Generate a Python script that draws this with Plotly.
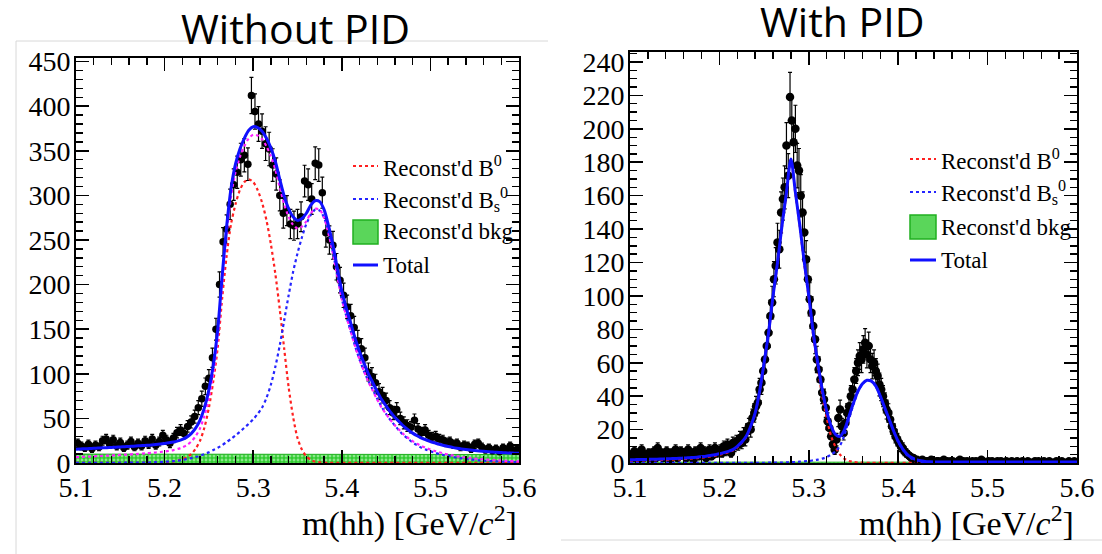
import numpy as np
import plotly.graph_objects as go

W, H = 1102, 554

# ---------------- LEFT: Without PID ----------------
# fit curves sampled every 0.005 GeV from 5.100 to 5.600
total_L = [15.5, 15.7, 16.0, 16.2, 16.5, 16.7, 17.0, 17.2, 17.5, 17.7,
           18.0, 18.3, 18.6, 18.9, 19.2, 19.5, 19.9, 20.3, 20.8, 21.3,
           21.9, 22.6, 23.5, 24.8, 26.5, 29, 33, 39, 48, 62,
           82, 110, 150, 210, 265, 308, 335, 352, 364, 373,
           377, 376, 372, 364, 353, 338, 318, 299, 285, 276,
           272, 274, 280, 289, 294, 293, 284, 266, 244, 218,
           193, 174, 157, 140, 125, 112, 100, 90, 80, 71,
           64, 57, 51, 46, 41, 37, 33.5, 30.5, 28, 26,
           24, 22.5, 21, 19.7, 18.5, 17.5, 16.6, 15.8, 15.1, 14.5,
           14.0, 13.5, 13.1, 12.7, 12.3, 12.0, 11.7, 11.4, 11.2, 11.0,
           10.8]
b0_L = [0.1, 0.1, 0.1, 0.1, 0.1, 0.1, 0.1, 0.1, 0.1, 0.1,
        0.1, 0.1, 0.1, 0.1, 0.1, 0.2, 0.2, 0.3, 0.4, 0.6,
        0.8, 1.2, 1.8, 2.8, 4.2, 6.5, 10, 16, 25, 40,
        62, 92, 130, 185, 232, 268, 290, 306, 315, 318,
        315, 306, 292, 272, 245, 212, 172, 128, 85, 52,
        28, 15, 7.5, 3.5, 1.5, 0.7, 0.3, 0.1, 0.1, 0.1,
        0.1, 0.1, 0.1, 0.1, 0.1, 0.1, 0.1, 0.1, 0.1, 0.1,
        0.1, 0.1, 0.1, 0.1, 0.1, 0.1, 0.1, 0.1, 0.1, 0.1,
        0.1, 0.1, 0.1, 0.1, 0.1, 0.1, 0.1, 0.1, 0.1, 0.1,
        0.1, 0.1, 0.1, 0.1, 0.1, 0.1, 0.1, 0.1, 0.1, 0.1,
        0.1]
bs_L = [0.3, 0.3, 0.3, 0.3, 0.3, 0.3, 0.3, 0.3, 0.3, 0.3,
        0.3, 0.5, 0.5, 0.5, 0.5, 0.5, 0.5, 0.7, 0.9, 1.1,
        1.4, 1.7, 2.1, 2.7, 3.4, 4.3, 5.4, 6.7, 8.2, 10,
        12, 14.5, 17, 20, 23.5, 27, 31, 35, 39.5, 44,
        49, 55, 62, 73, 88, 108, 132, 160, 188, 214,
        235, 253, 268, 278, 284, 283, 275, 258, 236, 210,
        184, 165, 148, 131, 116, 103, 92, 82, 72, 63,
        55, 48, 42, 36, 31, 27, 23, 20, 17, 15,
        13, 11.5, 10, 9, 8, 7, 6, 5.2, 4.5, 4,
        3.5, 3, 2.6, 2.3, 2, 1.8, 1.5, 1.3, 1.1, 1,
        0.9]
sig_L = [6.5, 6.7, 7.0, 7.2, 7.5, 7.7, 8.0, 8.2, 8.5, 8.7,
         9.0, 9.3, 9.6, 9.9, 10.2, 10.5, 10.9, 11.3, 11.8, 12.3,
         12.9, 13.6, 14.5, 15.8, 17.5, 20, 24, 30, 39, 53,
         73, 101, 141, 201, 256, 299, 326, 343, 355, 364,
         368, 367, 363, 355, 344, 329, 309, 290, 276, 267,
         263, 265, 271, 280, 285, 284, 275, 257, 235, 209,
         184, 165, 148, 131, 116, 103, 91, 81, 71, 62,
         55, 48, 42, 37, 32, 28, 24.5, 21.5, 19, 17,
         15, 13.5, 12, 10.7, 9.5, 8.5, 7.6, 6.8, 6.1, 5.5,
         5.0, 4.5, 4.1, 3.7, 3.3, 3.0, 2.7, 2.4, 2.2, 2.0,
         1.8]
bkg_x = [5.1, 5.2, 5.3, 5.4, 5.5, 5.6]
bkg_L = [10.0, 9.9, 9.8, 9.7, 9.6, 9.5]

# data, 125 bins of 4 MeV
data_L = [22, 19, 17, 21, 16, 20, 18, 25, 27, 21,
          26, 19, 23, 17, 20, 24, 18, 22, 19, 25,
          21, 27, 20, 24, 31, 26, 22, 28, 34, 37,
          33, 41, 46, 52, 62, 72, 86, 95, 118, 150,
          200, 248, 262, 290, 312, 326, 340, 345, 335, 412,
          394, 380, 372, 358, 352, 334, 324, 300, 280, 283,
          268, 266, 268, 276, 316, 312, 296, 336, 334, 303,
          258, 250, 244, 220, 205, 188, 175, 165, 152, 137,
          128, 118, 102, 97, 90, 80, 76, 70, 62, 56,
          60, 50, 45, 42, 40, 48, 38, 34, 37, 31,
          29, 30, 27, 26, 23, 24, 21, 22, 18, 20,
          19, 16, 21, 22, 18, 15, 17, 14, 16, 13,
          17, 15, 19, 14, 15]

# ---------------- RIGHT: With PID ----------------
total_R = [2.0, 2.0, 2.1, 2.1, 2.2, 2.3, 2.3, 2.4, 2.5, 2.6,
           2.7, 2.8, 3.0, 3.1, 3.3, 3.5, 3.8, 4.1, 4.5, 5.0,
           5.5, 6.2, 7.0, 8.0, 10, 12.5, 16, 22, 30, 43,
           60, 78, 100, 120, 142, 162, 182, 162, 142, 120,
           100, 78, 60, 44, 31, 22, 17, 16, 20, 28,
           36, 43, 47.5, 49.5, 49, 46, 40, 33, 26, 19,
           13, 8.5, 5.2, 3.2, 2.0, 1.3, 0.9, 0.7, 0.6, 0.6,
           0.6, 0.6, 0.6, 0.6, 0.6, 0.6, 0.6, 0.6, 0.6, 0.6,
           0.6, 0.6, 0.6, 0.6, 0.6, 0.6, 0.6, 0.6, 0.6, 0.6,
           0.6, 0.6, 0.6, 0.6, 0.6, 0.6, 0.6, 0.6, 0.6, 0.6,
           0.6]
b0_R = [1.4, 1.4, 1.5, 1.5, 1.6, 1.7, 1.7, 1.8, 1.9, 2.0,
        2.1, 2.2, 2.4, 2.5, 2.7, 2.9, 3.2, 3.5, 3.9, 4.4,
        4.9, 5.6, 6.4, 7.4, 9.4, 11.9, 15.4, 21.4, 29.4, 42.4,
        59.4, 77.3, 99.3, 119.3, 141.2, 161.2, 181, 161, 141, 118.5,
        98.3, 75.9, 57.5, 40.5, 27, 16, 9.5, 5, 2.5, 1.2,
        0.6, 0.3, 0.2, 0.1, 0.1, 0.1, 0.1, 0.1, 0.1, 0.1,
        0.1, 0.1, 0.1, 0.1, 0.1, 0.1, 0.1, 0.1, 0.1, 0.1,
        0.1, 0.1, 0.1, 0.1, 0.1, 0.1, 0.1, 0.1, 0.1, 0.1,
        0.1, 0.1, 0.1, 0.1, 0.1, 0.1, 0.1, 0.1, 0.1, 0.1,
        0.1, 0.1, 0.1, 0.1, 0.1, 0.1, 0.1, 0.1, 0.1, 0.1,
        0.1]
bs_R = [0.1, 0.1, 0.1, 0.1, 0.1, 0.1, 0.1, 0.1, 0.1, 0.1,
        0.1, 0.1, 0.1, 0.1, 0.1, 0.1, 0.1, 0.1, 0.1, 0.1,
        0.1, 0.1, 0.1, 0.1, 0.1, 0.1, 0.1, 0.1, 0.1, 0.1,
        0.1, 0.2, 0.2, 0.3, 0.3, 0.4, 0.5, 0.6, 0.8, 1.0,
        1.2, 1.6, 2.0, 2.6, 3.5, 5, 7, 10.5, 17, 26.5,
        35, 42.5, 47.3, 49.4, 49, 46, 40, 33, 26, 19,
        12.5, 8, 4.6, 2.6, 1.4, 0.7, 0.3, 0.1, 0.1, 0.1,
        0.1, 0.1, 0.1, 0.1, 0.1, 0.1, 0.1, 0.1, 0.1, 0.1,
        0.1, 0.1, 0.1, 0.1, 0.1, 0.1, 0.1, 0.1, 0.1, 0.1,
        0.1, 0.1, 0.1, 0.1, 0.1, 0.1, 0.1, 0.1, 0.1, 0.1,
        0.1]
bkg_R = [0.5, 0.5, 0.5, 0.5, 0.5, 0.5]

# data, 250 bins of 2 MeV
data_R = [5, 3, 7, 4, 2, 6, 8, 3, 5, 4,
          6, 2, 5, 7, 3, 9, 4, 6, 3, 5,
          7, 4, 2, 6, 5, 8, 3, 4, 7, 5,
          6, 3, 8, 5, 4, 2, 7, 6, 4, 9,
          5, 7, 3, 6, 8, 4, 5, 9, 6, 7,
          8, 6, 10, 7, 11, 9, 6, 12, 10, 13,
          11, 15, 12, 17, 14, 19, 22, 20, 27, 30,
          34, 36, 44, 48, 55, 62, 70, 78, 88, 96,
          110, 118, 132, 128, 150, 158, 165, 190, 172, 219,
          205, 192, 200, 178, 175, 160, 150, 138, 122, 110,
          98, 90, 82, 74, 62, 56, 50, 42, 38, 33,
          25, 21, 16, 11, 8, 14, 27, 32, 22, 18,
          24, 30, 34, 40, 44, 50, 55, 60, 64, 62,
          68, 72, 65, 70, 62, 58, 60, 55, 52, 47,
          44, 40, 36, 32, 30, 26, 22, 19, 16, 14,
          12, 10, 9, 7, 6, 5, 4, 3, 3, 2,
          2, 1, 1, 2, 0, 1, 1, 0, 2, 1,
          0, 1, 1, 0, 1, 2, 0, 1, 0, 1,
          1, 0, 0, 1, 2, 0, 1, 0, 1, 0,
          0, 1, 0, 1, 0, 0, 2, 1, 0, 0,
          1, 0, 1, 0, 0, 1, 0, 1, 0, 0,
          1, 0, 0, 1, 0, 0, 1, 0, 0, 1,
          0, 0, 1, 0, 0, 0, 1, 0, 1, 0,
          0, 1, 0, 0, 1, 0, 0, 0, 1, 0,
          0, 1, 0, 0, 0, 1, 0, 0, 1, 0]

x_lo, x_hi = 5.1, 5.6
x_ticks = [5.1, 5.2, 5.3, 5.4, 5.5, 5.6]
y_ticks_L = [0, 50, 100, 150, 200, 250, 300, 350, 400, 450]
y_ticks_R = [0, 20, 40, 60, 80, 100, 120, 140, 160, 180, 200, 220, 240]
legend_labels = ["Reconst'd B<sup>0</sup>", "Reconst'd B<sub>s</sub><sup>0</sup>",
                 "Reconst'd bkg", "Total"]
titles = ["Without PID", "With PID"]
x_title = "m(hh) [GeV/<i>c</i><sup>2</sup>]"


def grid(vals, step=0.005):
    return np.round(x_lo + step * np.arange(len(vals)), 5)


def centers(vals):
    w = (x_hi - x_lo) / len(vals)
    return x_lo + w * (np.arange(len(vals)) + 0.5)


RED = "#ff2020"
BLUE_D = "#2424ff"
BLUE = "#1010ff"
MAG = "#ff20ff"
GREEN = "#30cc30"

fig = go.Figure()


def add_panel(xa, ya, total, b0, bs, bkg, data, msize, sig=None):
    fig.add_trace(go.Scatter(
        x=bkg_x, y=bkg, xaxis=xa, yaxis=ya, mode="lines",
        line=dict(color="#20b020", width=1), fill="tozeroy",
        fillpattern=dict(shape=".", bgcolor=GREEN, fgcolor="#e6ffe6",
                         size=4, solidity=0.4),
        showlegend=False, hoverinfo="skip"))
    fig.add_trace(go.Scatter(
        x=centers(data), y=data, xaxis=xa, yaxis=ya, mode="markers",
        marker=dict(color="black", size=msize),
        error_y=dict(type="sqrt", color="black", thickness=1.2, width=2),
        showlegend=False))
    fig.add_trace(go.Scatter(
        x=grid(b0), y=b0, xaxis=xa, yaxis=ya, mode="lines",
        line=dict(color=RED, width=2.2, dash="dot", shape="spline", smoothing=0.8),
        showlegend=False))
    fig.add_trace(go.Scatter(
        x=grid(bs), y=bs, xaxis=xa, yaxis=ya, mode="lines",
        line=dict(color=BLUE_D, width=2.2, dash="dot", shape="spline", smoothing=0.8),
        showlegend=False))
    if sig is not None:
        fig.add_trace(go.Scatter(
            x=grid(sig), y=sig, xaxis=xa, yaxis=ya, mode="lines",
            line=dict(color=MAG, width=2.2, dash="dot", shape="spline", smoothing=0.8),
            showlegend=False))
    fig.add_trace(go.Scatter(
        x=grid(total), y=total, xaxis=xa, yaxis=ya, mode="lines",
        line=dict(color=BLUE, width=3, shape="spline", smoothing=0.8),
        showlegend=False))


add_panel("x", "y", total_L, b0_L, bs_L, bkg_L, data_L, 7.5, sig_L)
add_panel("x2", "y2", total_R, b0_R, bs_R, bkg_R, data_R, 8.5)

SERIF = "Liberation Serif"
tickfont = dict(family=SERIF, size=28, color="black")


def xaxis_cfg(dom, anchor):
    return dict(domain=dom, range=[x_lo, x_hi], tickvals=x_ticks, anchor=anchor,
                ticktext=[f"{v:.1f}" for v in x_ticks], ticks="inside",
                ticklen=13, tickwidth=1.6, tickcolor="black", showline=True,
                linecolor="black", linewidth=2, mirror="ticks", showgrid=False,
                zeroline=False, tickfont=dict(tickfont), ticklabelstandoff=-2,
                automargin=False,
                minor=dict(ticks="inside", ticklen=7, dtick=0.02, tick0=5.1,
                           tickcolor="black", tickwidth=1.4, showgrid=False))


def yaxis_cfg(dom, rng, tv, mdt, anchor):
    return dict(domain=dom, range=rng, tickvals=tv, ticks="inside",
                ticklen=13, tickwidth=1.6, tickcolor="black", showline=True,
                linecolor="black", linewidth=2, mirror="ticks", showgrid=False,
                zeroline=False, tickfont=dict(tickfont), anchor=anchor,
                ticklabelstandoff=-2, automargin=False,
                minor=dict(ticks="inside", ticklen=7, dtick=mdt, tick0=0,
                           tickcolor="black", tickwidth=1.4, showgrid=False))


fig.update_layout(
    width=W, height=H, margin=dict(l=0, r=0, t=0, b=0, autoexpand=False),
    paper_bgcolor="white", plot_bgcolor="white", showlegend=False,
    font=dict(family=SERIF, color="black"),
    xaxis=xaxis_cfg([76 / W, 519 / W], "y"),
    yaxis=yaxis_cfg([1 - 463 / H, 1 - 58 / H], [0, 454], y_ticks_L, 10, "x"),
    xaxis2=xaxis_cfg([630 / W, 1077 / W], "y2"),
    yaxis2=yaxis_cfg([1 - 463 / H, 1 - 52 / H], [0, 246], y_ticks_R, 5, "x2"),
)


def px(x):
    return x / W


def py(y):
    return 1 - y / H


shapes = []
annots = []
# panel frames (light grey)
shapes.append(dict(type="line", xref="paper", yref="paper", x0=px(16), x1=px(16),
                   y0=py(41), y1=py(554), line=dict(color="#d8d8d8", width=1)))
shapes.append(dict(type="line", xref="paper", yref="paper", x0=px(16), x1=px(548),
                   y0=py(41), y1=py(41), line=dict(color="#d8d8d8", width=1)))
shapes.append(dict(type="line", xref="paper", yref="paper", x0=px(561), x1=px(1102),
                   y0=py(540), y1=py(540), line=dict(color="#d8d8d8", width=1)))

# legends
for (lx0, lx1, tx, ys) in [(353, 378, 381, [166, 199, 232, 265]),
                           (910, 936, 939, [159, 192, 227, 260])]:
    shapes.append(dict(type="line", xref="paper", yref="paper", x0=px(lx0), x1=px(lx1),
                       y0=py(ys[0]), y1=py(ys[0]), line=dict(color=RED, width=2, dash="dot")))
    shapes.append(dict(type="line", xref="paper", yref="paper", x0=px(lx0), x1=px(lx1),
                       y0=py(ys[1]), y1=py(ys[1]), line=dict(color=BLUE_D, width=2, dash="dot")))
    shapes.append(dict(type="rect", xref="paper", yref="paper", x0=px(lx0), x1=px(lx1),
                       y0=py(ys[2] + 12), y1=py(ys[2] - 12), fillcolor="#5ad65a",
                       line=dict(color="#20b020", width=1.5)))
    shapes.append(dict(type="line", xref="paper", yref="paper", x0=px(lx0), x1=px(lx1),
                       y0=py(ys[3]), y1=py(ys[3]), line=dict(color=BLUE, width=3)))
    for lab, yy in zip(legend_labels, ys):
        annots.append(dict(xref="paper", yref="paper", x=px(tx), y=py(yy), text=lab,
                           showarrow=False, xanchor="left", yanchor="middle",
                           font=dict(family=SERIF, size=23, color="black")))

# axis titles
for xr in [519, 1076]:
    annots.append(dict(xref="paper", yref="paper", x=px(xr), y=py(521), text=x_title,
                       showarrow=False, xanchor="right", yanchor="middle",
                       font=dict(family=SERIF, size=34, color="black")))

# panel titles
annots.append(dict(xref="paper", yref="paper", x=px(295), y=py(28), text=titles[0],
                   showarrow=False, xanchor="center", yanchor="middle",
                   font=dict(family="Open Sans", size=41, color="black")))
annots.append(dict(xref="paper", yref="paper", x=px(842), y=py(21), text=titles[1],
                   showarrow=False, xanchor="center", yanchor="middle",
                   font=dict(family="Open Sans", size=41, color="black")))

fig.update_layout(shapes=shapes, annotations=annots)
fig.write_html("out.html",
               config={"displayModeBar": False, "staticPlot": True},
               post_script="document.body.style.margin='0px';"
                           "document.body.style.overflow='hidden';")
